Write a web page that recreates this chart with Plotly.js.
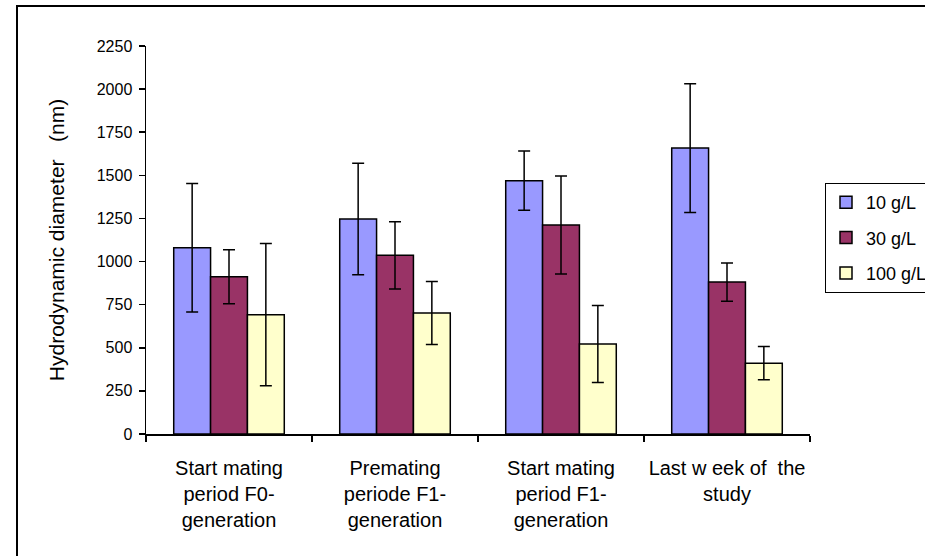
<!DOCTYPE html>
<html>
<head>
<meta charset="utf-8">
<script src="https://cdn.plot.ly/plotly-3.0.1.min.js"></script>
<style>
  html, body { margin: 0; padding: 0; background: #ffffff; overflow: hidden; }
  #chart { width: 925px; height: 556px; }
</style>
</head>
<body>
<div id="chart"></div>
<script>
// Sampling periods along the x axis
const periods = [
  "Start mating<br>period F0-<br>generation",
  "Premating<br>periode F1-<br>generation",
  "Start mating<br>period F1-<br>generation",
  "Last w eek of  the<br>study"
];

// Mean hydrodynamic diameter (nm) per concentration
const series = ["10 g/L", "30 g/L", "100 g/L"];
const mean10  = [1080, 1247, 1469, 1658];
const mean30  = [912, 1036, 1212, 881];
const mean100 = [692, 702, 522, 411];

// Standard deviations (error bars)
const sd10  = [373, 323, 172, 373];
const sd30  = [157, 195, 284, 111];
const sd100 = [412, 183, 223, 96];

const colors = ["#9999FF", "#993366", "#FFFFCC"];
const means = [mean10, mean30, mean100];
const sds = [sd10, sd30, sd100];

const traces = series.map((name, i) => ({
  type: "bar",
  name: name,
  legendgroup: "g" + i,
  x: periods,
  y: means[i],
  marker: { color: colors[i], line: { color: "#000000", width: 1.5 } },
  error_y: {
    type: "data",
    array: sds[i],
    visible: true,
    color: "#000000",
    thickness: 1.5,
    width: 6
  },
  hoverinfo: "skip"
}));

const W = 925, H = 556;
const M = { l: 146, r: 115, t: 46, b: 122 };
const plotW = W - M.l - M.r, plotH = H - M.t - M.b;
// pixel -> paper helpers for the outer frame
const px = v => (v - M.l) / plotW;
const py = v => (H - M.b - v) / plotH;

const layout = {
  width: W,
  height: H,
  paper_bgcolor: "#ffffff",
  plot_bgcolor: "#ffffff",
  margin: M,
  font: { family: "Liberation Sans, Arial, sans-serif", size: 16, color: "#000000" },
  barmode: "group",
  bargap: 0.334,
  bargroupgap: 0,
  showlegend: true,
  legend: {
    xref: "container", yref: "container",
    x: 825 / W, xanchor: "left",
    y: (H - 183) / H, yanchor: "top",
    bordercolor: "#000000",
    borderwidth: 1,
    bgcolor: "#ffffff",
    font: { size: 18 },
    tracegroupgap: 9,
    itemwidth: 30
  },
  xaxis: {
    type: "category",
    showline: true,
    linecolor: "#000000",
    linewidth: 1.5,
    ticks: "outside",
    tickson: "boundaries",
    ticklen: 6,
    tickcolor: "#000000",
    tickwidth: 1.5,
    showgrid: false,
    zeroline: false,
    tickangle: 0,
    tickfont: { size: 20 },
    ticklabelstandoff: 15,
    fixedrange: true
  },
  yaxis: {
    range: [0, 2250],
    dtick: 250,
    tick0: 0,
    showline: true,
    linecolor: "#000000",
    linewidth: 1.5,
    ticks: "outside",
    ticklen: 6,
    tickcolor: "#000000",
    tickwidth: 1.5,
    showgrid: false,
    zeroline: false,
    tickfont: { size: 16 },
    ticklabelstandoff: 3,
    title: { text: "Hydrodynamic diameter   (nm)", font: { size: 21 }, standoff: 26 },
    fixedrange: true
  },
  shapes: [{
    type: "rect",
    xref: "paper", yref: "paper",
    x0: px(17), x1: px(935),
    y0: py(565), y1: py(6),
    line: { color: "#000000", width: 2 },
    fillcolor: "rgba(0,0,0,0)",
    layer: "below"
  }]
};

Plotly.newPlot("chart", traces, layout, { displayModeBar: false, staticPlot: true });
</script>
</body>
</html>
